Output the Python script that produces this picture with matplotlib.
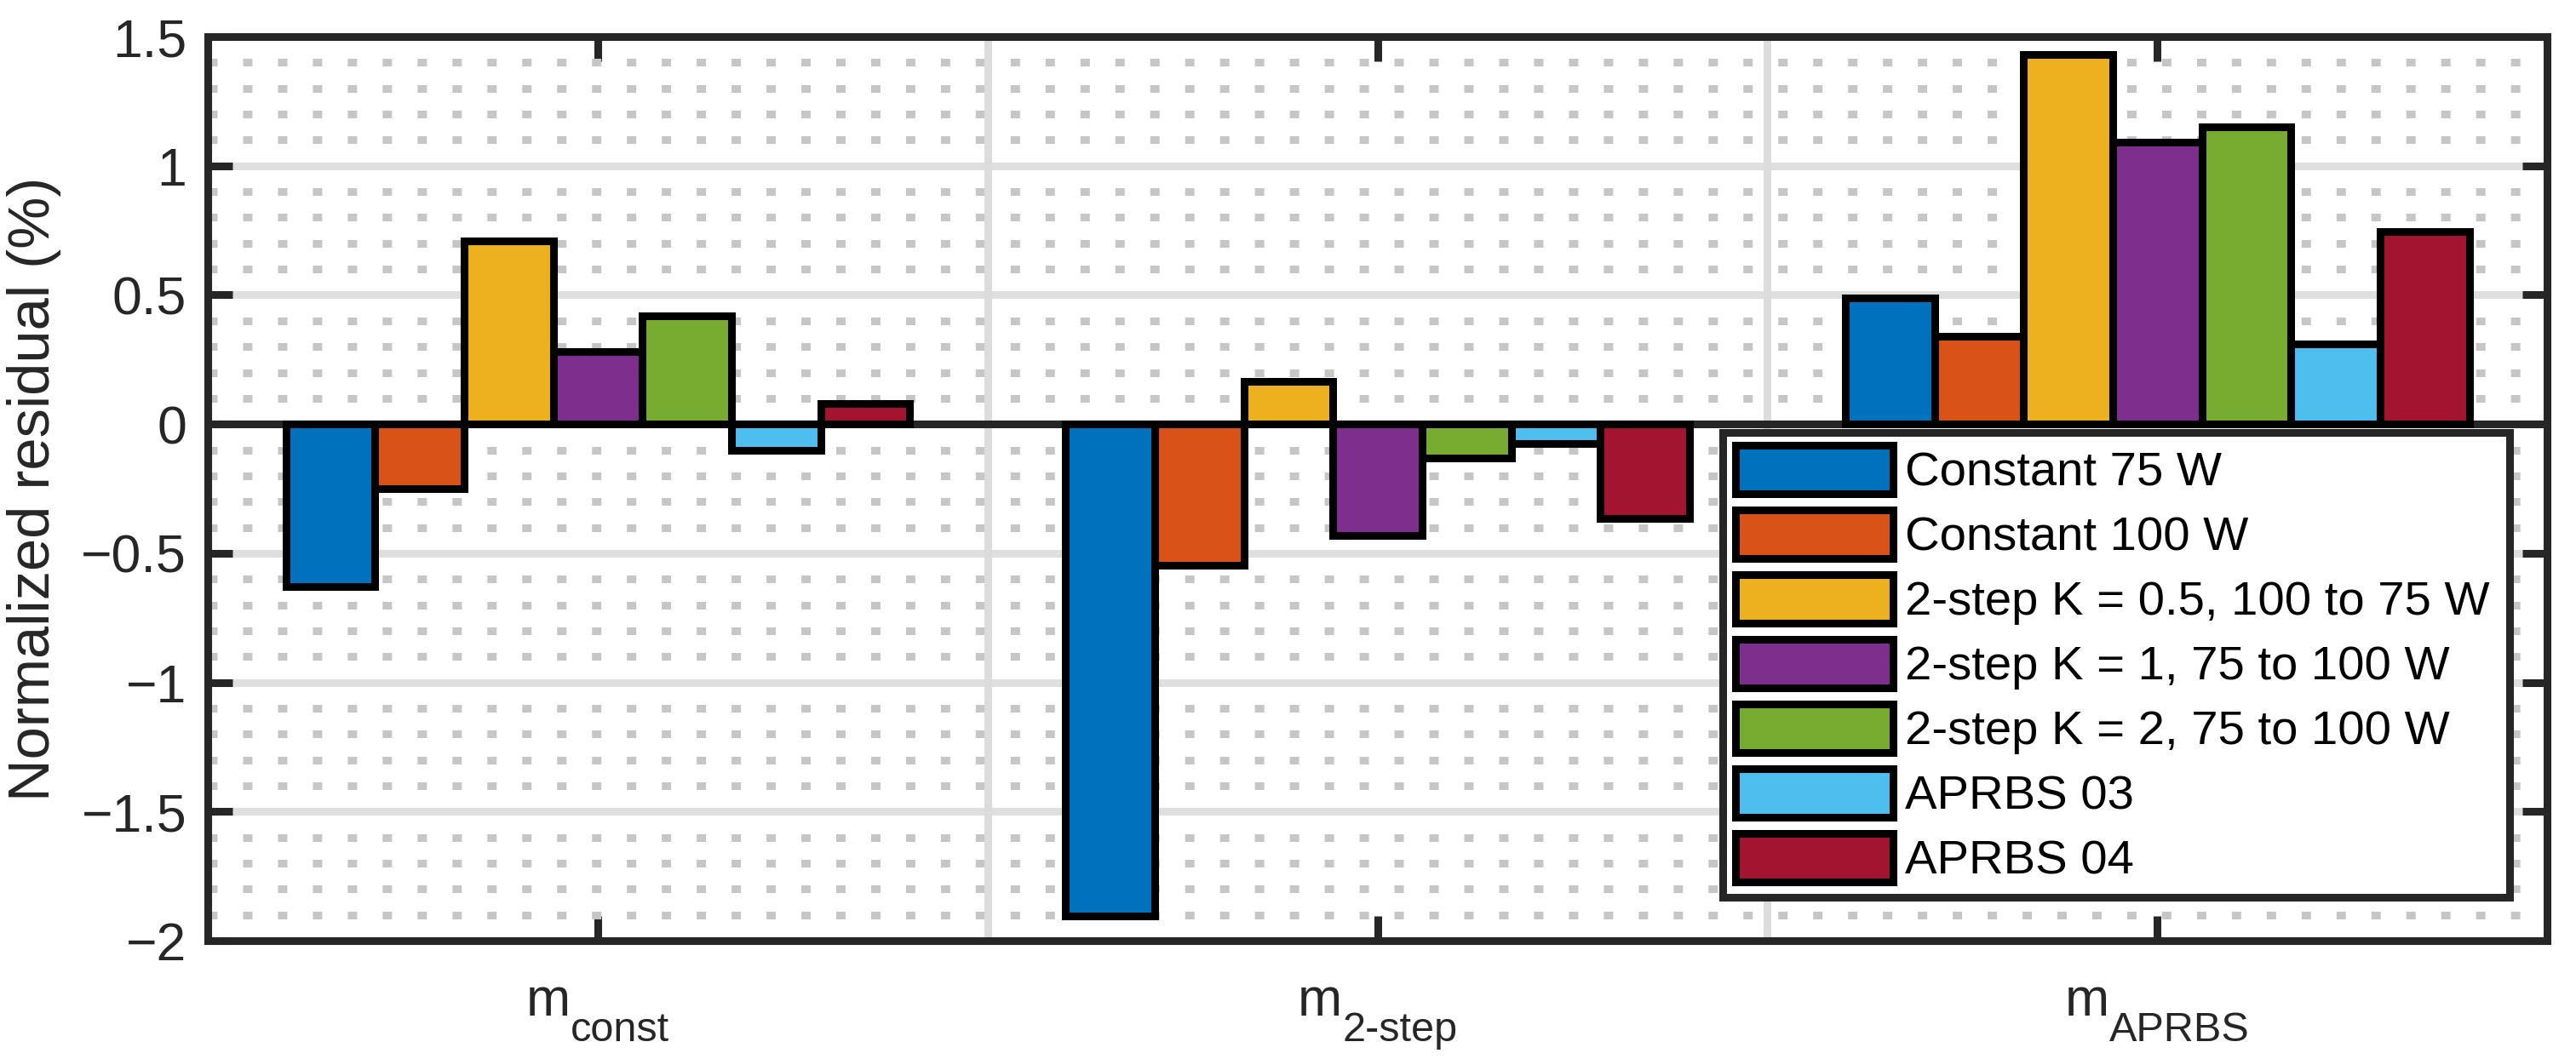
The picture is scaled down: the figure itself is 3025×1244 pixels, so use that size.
import matplotlib
matplotlib.use('Agg')
import matplotlib.pyplot as plt
from matplotlib.font_manager import FontProperties
from matplotlib.ticker import MultipleLocator
import numpy as np

plt.rcParams['font.family'] = ['Liberation Sans', 'DejaVu Sans']
plt.rcParams['lines.scale_dashes'] = False

# categories (x tick labels are m with a subscript)
groups = [1, 2, 3]
group_subs = ['const', '2-step', 'APRBS']

series_names = ['Constant 75 W', 'Constant 100 W', '2-step K = 0.5, 100 to 75 W',
                '2-step K = 1, 75 to 100 W', '2-step K = 2, 75 to 100 W',
                'APRBS 03', 'APRBS 04']
series_colors = ['#0072BD', '#D95319', '#EDB120', '#7E2F8E', '#77AC30', '#4DBEEE', '#A2142F']

# normalized residual (%) for m_const, m_2-step, m_APRBS
const_75 = [-0.63, -1.905, 0.49]
const_100 = [-0.25, -0.545, 0.34]
step_k05 = [0.71, 0.165, 1.43]
step_k1 = [0.28, -0.43, 1.09]
step_k2 = [0.42, -0.13, 1.15]
aprbs_03 = [-0.10, -0.075, 0.31]
aprbs_04 = [0.08, -0.365, 0.745]
series_values = [const_75, const_100, step_k05, step_k1, step_k2, aprbs_03, aprbs_04]

yticks = [-2, -1.5, -1, -0.5, 0, 0.5, 1, 1.5]
ytick_labels = ['\u22122', '\u22121.5', '\u22121', '\u22120.5', '0', '0.5', '1', '1.5']

DARK = '#262626'
LW = 6.5          # ~9 px at 100 dpi
FS = 45           # axes font size
FONT = 'Liberation Sans'

fig = plt.figure(figsize=(30.25, 12.44), dpi=100)
ax = fig.add_axes([0.0807, 0.1117, 0.9081, 0.8537])

n = len(series_values)
bw = 0.8 / n
for i, (vals, name, col) in enumerate(zip(series_values, series_names, series_colors)):
    xs = np.array(groups) + (i - (n - 1) / 2) * bw
    ax.bar(xs, vals, width=bw, color=col, edgecolor='black', linewidth=LW,
           label=name, zorder=2)

# bar baseline
ax.axhline(0, color=DARK, linewidth=LW, zorder=1.5)

# group separators
for xv in [1.5, 2.5]:
    ax.axvline(xv, color='#dcdcdc', linewidth=LW, zorder=0.7)

ax.set_xlim(0.5, 3.5)
ax.set_ylim(-2, 1.5)
ax.set_xticks(groups)
ax.set_xticklabels([])
ax.set_yticks(yticks)
ax.set_yticklabels(ytick_labels)
ax.yaxis.set_minor_locator(MultipleLocator(0.1))

ax.set_axisbelow(True)
ax.yaxis.grid(True, which='major', color='#dfdfdf', linewidth=LW)
ax.yaxis.grid(True, which='minor', color='#c6c6c6', linewidth=LW,
              linestyle=(0, (7.9, 21.6)))

ax.tick_params(which='major', direction='in', top=True, right=True,
               length=21, width=LW, color=DARK, labelsize=FS,
               labelcolor=DARK, pad=18)
ax.tick_params(which='minor', length=0)
for sp in ax.spines.values():
    sp.set_linewidth(LW)
    sp.set_color(DARK)
    sp.set_zorder(3)

ax.set_ylabel('Normalized residual (%)', fontsize=49.5, color=DARK, labelpad=17)

# x tick labels: "m" with a lowered subscript
renderer = fig.canvas.get_renderer()


def width_pt(s, size):
    w, _, _ = renderer.get_text_width_height_descent(
        s, FontProperties(family=FONT, size=size), ismath=False)
    return w * 72 / fig.dpi


trans = ax.get_xaxis_transform()
for x, sub in zip(groups, group_subs):
    wm = width_pt('m', FS)
    ws = width_pt(sub, 35)
    x0 = -(wm + ws) / 2
    ax.annotate('m', xy=(x, 0), xycoords=trans, xytext=(x0, -63.5),
                textcoords='offset points', ha='left', va='baseline',
                fontsize=FS, color=DARK, annotation_clip=False)
    ax.annotate(sub, xy=(x, 0), xycoords=trans, xytext=(x0 + wm, -85),
                textcoords='offset points', ha='left', va='baseline',
                fontsize=35, color=DARK, annotation_clip=False)

leg = ax.legend(loc='upper left', bbox_to_anchor=(0.6474, 0.0, 0.3367, 0.5626),
                mode='expand', borderaxespad=0, fontsize=40.5,
                handlelength=3.29, handleheight=1.16, handletextpad=0.24,
                labelspacing=0.30, borderpad=0.28, fancybox=False,
                framealpha=1, edgecolor=DARK)
leg.get_frame().set_linewidth(LW)
leg.set_zorder(5)

fig.savefig('out.png', dpi=100)
